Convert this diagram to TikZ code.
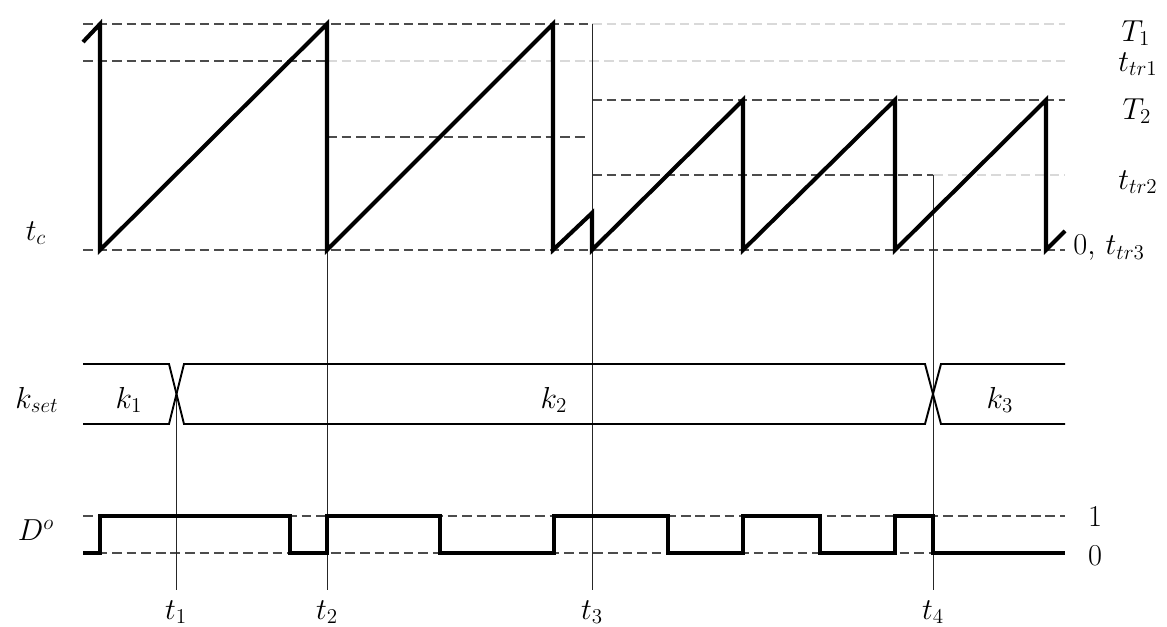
\documentclass[tikz,border=0pt]{standalone}
\begin{document}
\begin{tikzpicture}[x=0.02cm,y=-0.02cm,
  sig/.style={line width=2.3pt,line join=miter,line cap=butt},
  dashdark/.style={draw=black!70,line width=0.8pt,dash pattern=on 5.5pt off 2.8pt},
  dashlight/.style={draw=black!15,line width=0.8pt,dash pattern=on 5.5pt off 2.8pt},
  thinv/.style={draw=black!85,line width=0.55pt},
  bus/.style={line width=1.1pt,line join=miter},
  lbl/.style={inner sep=0pt,font=\fontsize{17}{20}\selectfont},
  digit/.style={inner sep=0pt,font=\fontsize{17.28}{20}\selectfont}]
\useasboundingbox (0,0) rectangle (1167,626);
% dashed reference lines (sawtooth)
\draw[dashdark] (83,24) -- (592,24);
\draw[dashlight] (592,24) -- (1065,24);
\draw[dashdark] (83,61) -- (327,61);
\draw[dashlight] (327,61) -- (1065,61);
\draw[dashdark] (327,137) -- (588,137);
\draw[dashdark] (592,100) -- (1065,100);
\draw[dashdark] (592,175) -- (933,175);
\draw[dashlight] (933,175) -- (1065,175);
\draw[dashdark] (83,250) -- (1065,250);
% dashed reference lines (D^o)
\draw[dashdark] (83,516) -- (1065,516);
\draw[dashdark] (83,553) -- (1065,553);
% vertical time markers
\coordinate (v1a) at (176,394); \coordinate (v1b) at (176,590);
\coordinate (v2a) at (327,250); \coordinate (v2b) at (327,590);
\coordinate (v3a) at (592,24);  \coordinate (v3b) at (592,590);
\coordinate (v4a) at (933,175); \coordinate (v4b) at (933,590);
\draw[thinv] (v1a) -- (v1b);
\draw[thinv] (v2a) -- (v2b);
\draw[thinv] (v3a) -- (v3b);
\draw[thinv] (v4a) -- (v4b);
% sawtooth t_c
\draw[sig] (83,42) -- (100,24) -- (100,250) -- (327,24) -- (327,250) -- (553,24) -- (553,250)
  -- (592,213) -- (592,250) -- (743,100) -- (743,250) -- (895,100) -- (895,250)
  -- (1046,100) -- (1046,250) -- (1065,231);
% k_set bus
\draw[bus] (83,364) -- (169,364) -- (184,424) -- (925,424) -- (941,364) -- (1065,364);
\draw[bus] (83,424) -- (169,424) -- (184,364) -- (925,364) -- (941,424) -- (1065,424);
% D^o waveform
\draw[sig] (83,553) -- (100,553) -- (100,516) -- (290,516) -- (290,553) -- (327,553) -- (327,516)
  -- (440,516) -- (440,553) -- (554,553) -- (554,516) -- (668,516) -- (668,553) -- (743,553)
  -- (743,516) -- (820,516) -- (820,553) -- (895,553) -- (895,516) -- (933,516) -- (933,553)
  -- (1065,553);
% labels
\node[lbl] (tc) at (36,233) {$t_c$};
\node[lbl] (kset) at (37,400) {$k_{set}$};
\node[lbl] (Do) at (36,530) {$D^o$};
\node[lbl] (k1) at (129,400) {$k_1$};
\node[lbl] (k2) at (554,400) {$k_2$};
\node[lbl] (k3) at (1000,400) {$k_3$};
\node[lbl] (T1) at (1136,33) {$T_1$};
\node[lbl] (ttr1) at (1138,64) {$t_{tr1}$};
\node[lbl] (T2) at (1137,111) {$T_2$};
\node[lbl] (ttr2) at (1138,182) {$t_{tr2}$};
\node[lbl,anchor=west] (ttr3) at (1073,248) {$0,\,t_{tr3}$};
\node[digit] (one) at (1095,516) {1};
\node[digit] (zero) at (1095,556) {0};
\node[lbl] (t1) at (176,612) {$t_1$};
\node[lbl] (t2) at (327,612) {$t_2$};
\node[lbl] (t3) at (592,612) {$t_3$};
\node[lbl] (t4) at (933,612) {$t_4$};
\end{tikzpicture}
\end{document}
